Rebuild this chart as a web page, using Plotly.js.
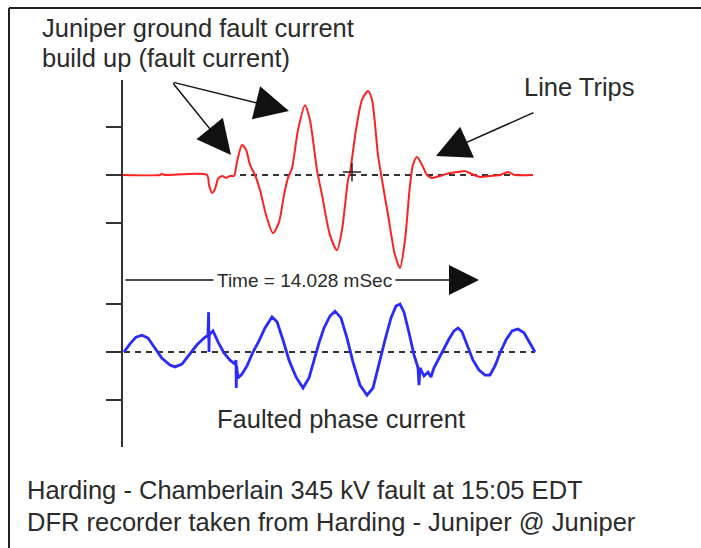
<!DOCTYPE html>
<html><head><meta charset="utf-8">
<script src="https://cdn.plot.ly/plotly-3.0.1.min.js"></script>
<style>html,body{margin:0;padding:0;background:#fff;overflow:hidden}</style>
</head><body>
<div id="chart" style="width:701px;height:548px"></div>
<script>
// Ground (residual) current at Juniper, time in ms, current in tick units
const redTime = [0, 9.25, 9.75, 10.75, 21, 21.5, 22.25, 23, 23.75, 24.75, 25.75, 26.75, 27.75, 28.5, 29.75, 30.75, 31.75, 33, 34.25, 35.75, 37.5, 39, 40.25, 41.25, 42.25, 43.75, 45.5, 46.75, 48.5, 49.75, 51.75, 53.5, 54.75, 56.25, 56.75, 58.25, 59.75, 61.25, 62.25, 63.75, 64.75, 66.25, 68, 69.25, 70.5, 71.75, 72.5, 73.5, 74.75, 76, 77.25, 79.25, 81.75, 83.75, 85.5, 87.25, 89.25, 91.75, 94.25, 96.25, 98, 102.5];
const redCurrent = [0, 0, 0.02, 0, 0, -0.21, -0.37, -0.29, -0.08, -0.02, -0.06, -0.02, -0.02, 0.27, 0.62, 0.52, 0.21, 0, -0.31, -0.82, -1.2, -0.97, -0.41, -0.06, 0.14, 0.93, 1.44, 1.13, 0.1, -0.41, -1.24, -1.55, -1.13, -0.1, 0.06, 0.93, 1.55, 1.73, 1.55, 0.41, -0.1, -0.82, -1.65, -1.92, -1.34, -0.21, 0.21, 0.37, 0.21, 0, -0.06, -0.02, 0.04, 0.06, 0.08, 0.02, -0.04, -0.02, 0, 0.06, 0, 0];

// Faulted phase current
const blueTime = [0.25, 1.75, 3.25, 4.75, 6.25, 8, 9.75, 11.75, 13, 14.75, 16.75, 18.5, 20.25, 21.25, 21.4, 21.5, 21.58, 21.75, 22.5, 23.75, 25.25, 26.75, 28, 28.25, 28.32, 28.4, 28.75, 29.75, 31, 32.5, 34, 35.5, 37.25, 38.5, 40, 41.5, 43.25, 45, 46.5, 47.75, 49, 50.25, 51.75, 53, 54.5, 56, 57.5, 59.25, 61, 62.5, 64, 65.5, 67, 68.25, 69.25, 70.25, 71.5, 72.75, 73.75, 74, 74.25, 75.25, 76.25, 77, 77.75, 78.75, 80, 81.5, 82.75, 83.75, 84.75, 86, 87.5, 89, 90.5, 91.75, 93, 94.25, 95.75, 97.25, 98.75, 100.25, 101.75, 103];
const blueCurrent = [0, 0.17, 0.31, 0.35, 0.29, 0.08, -0.13, -0.27, -0.31, -0.25, -0.04, 0.15, 0.29, 0.35, 0.83, 0, 0.4, 0.375, 0.44, 0.21, -0.02, -0.17, -0.25, -0.17, -0.75, -0.29, -0.54, -0.46, -0.29, 0, 0.23, 0.5, 0.73, 0.63, 0.25, -0.17, -0.52, -0.75, -0.54, -0.17, 0.19, 0.5, 0.75, 0.85, 0.71, 0.29, -0.21, -0.69, -0.9, -0.75, -0.23, 0.25, 0.71, 0.96, 1.0, 0.83, 0.4, -0.06, -0.33, -0.69, -0.33, -0.5, -0.42, -0.52, -0.33, -0.17, 0.04, 0.27, 0.44, 0.5, 0.42, 0.15, -0.17, -0.375, -0.48, -0.48, -0.29, -0.02, 0.25, 0.44, 0.48, 0.4, 0.17, 0];

const tickValues = [-1, 0, 1];
const cursorTime = [57.25];
const cursorCurrent = [0.06];

const W = 701, H = 548;
const px = v => v / W;
const py = v => 1 - v / H;
const FONT = 'Arial, "Liberation Sans", Helvetica, sans-serif';
const TXT = '#2b2b2b';

const traces = [
  {x: redTime, y: redCurrent, xaxis: 'x', yaxis: 'y', mode: 'lines',
   line: {color: '#ff2020', width: 2, shape: 'spline', smoothing: 0.7}},
  {x: blueTime, y: blueCurrent, xaxis: 'x', yaxis: 'y2', mode: 'lines',
   line: {color: '#2a2aff', width: 2.8}},
  {x: cursorTime, y: cursorCurrent, xaxis: 'x', yaxis: 'y', mode: 'markers',
   marker: {symbol: 'cross-thin', size: 13, line: {color: '#222', width: 1.5}}}
];

const yCommon = {
  showline: true, linewidth: 2, linecolor: '#333',
  ticks: 'outside', ticklen: 15, tickwidth: 2, tickcolor: '#333',
  tickvals: tickValues, showticklabels: false,
  showgrid: false, zeroline: false, anchor: 'x', fixedrange: true
};

function textNote(text, x, y, size, xanchor, extra) {
  return Object.assign({
    text: text, xref: 'paper', yref: 'paper', x: px(x), y: py(y),
    xanchor: xanchor, yanchor: 'middle', showarrow: false,
    font: {family: FONT, size: size, color: TXT}
  }, extra || {});
}
// arrowhead style 2 = flat-backed triangle
function arrowNote(tipX, tipY, tailX, tailY, scale) {
  const aw = 1.5;
  return {
    text: '', xref: 'paper', yref: 'paper', x: px(tipX), y: py(tipY),
    ax: tailX - tipX, ay: tailY - tipY, axref: 'pixel', ayref: 'pixel',
    showarrow: true, arrowhead: 2, arrowwidth: aw, arrowsize: scale / aw,
    standoff: 0, arrowcolor: '#111'
  };
}

const BIG = 25.5;
const layout = {
  width: W, height: H,
  margin: {l: 0, r: 0, t: 0, b: 0, pad: 0},
  paper_bgcolor: '#fff', plot_bgcolor: 'rgba(0,0,0,0)',
  showlegend: false, hovermode: false,
  xaxis: {domain: [px(123), px(540)], range: [0, 104.25], visible: false, fixedrange: true},
  yaxis: Object.assign({}, yCommon, {domain: [py(270), py(80)], range: [-1.959, 1.959]}),
  yaxis2: Object.assign({}, yCommon, {domain: [py(447), py(270)], range: [-1.979, 1.708]}),
  shapes: [
    {type: 'line', xref: 'x', yref: 'y', x0: 29.25, x1: 99.5, y0: 0, y1: 0, layer: 'below',
     line: {color: '#333', width: 2, dash: '6px,5px'}},
    {type: 'line', xref: 'x', yref: 'y2', x0: 0.25, x1: 103, y0: 0, y1: 0, layer: 'below',
     line: {color: '#333', width: 2, dash: '6px,5px'}},
    {type: 'line', xref: 'paper', yref: 'paper', x0: px(9), x1: 1, y0: py(8), y1: py(8),
     line: {color: '#222', width: 2}},
    {type: 'line', xref: 'paper', yref: 'paper', x0: px(9), x1: px(9), y0: py(8), y1: 0,
     line: {color: '#222', width: 2}}
  ],
  annotations: [
    arrowNote(231, 155, 172, 82, 6.8),
    arrowNote(289, 111, 172, 82, 6.8),
    arrowNote(436, 156, 535, 112, 6.8),
    arrowNote(479, 280, 124, 280, 6),
    textNote('Juniper ground fault current', 40, 27.5, BIG, 'left'),
    textNote('build up (fault current)', 40, 57.5, BIG, 'left'),
    textNote('Line Trips', 522, 87, BIG, 'left'),
    textNote('Time = 14.028 mSec', 304, 280, 19, 'center', {bgcolor: '#fff', borderpad: 3}),
    textNote('Faulted phase current', 215, 419, BIG, 'left'),
    textNote('Harding - Chamberlain 345 kV fault at 15:05 EDT', 25, 490, BIG, 'left'),
    textNote('DFR recorder taken from Harding - Juniper @ Juniper', 25, 522, BIG, 'left')
  ]
};

Plotly.newPlot('chart', traces, layout, {staticPlot: true, displayModeBar: false});
</script>
</body></html>
